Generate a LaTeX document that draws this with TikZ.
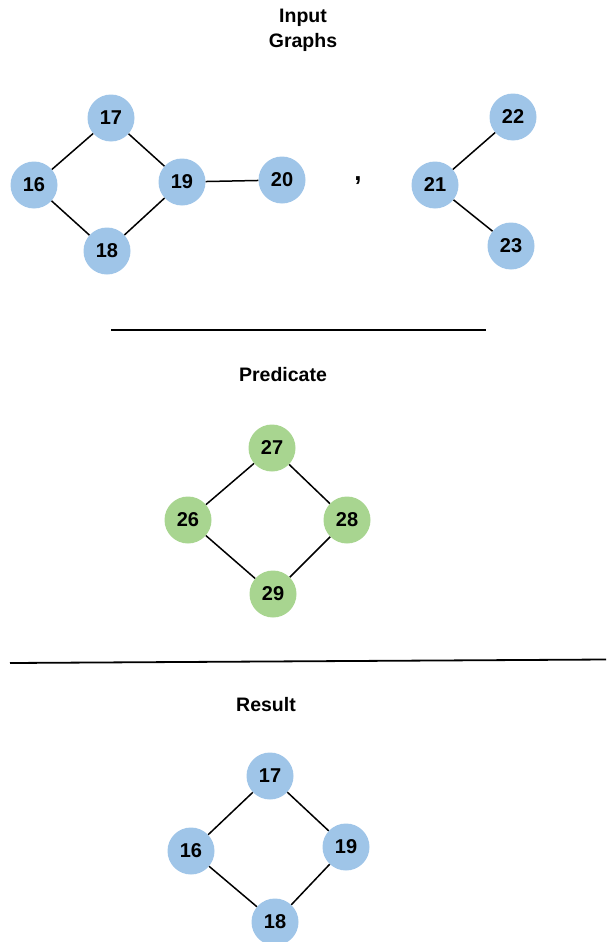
\documentclass[tikz,border=0pt]{standalone}
\usepackage{fontspec}
\setmainfont{Liberation Sans}
\definecolor{vblue}{HTML}{9FC5E8}
\definecolor{vgreen}{HTML}{A8D590}
\tikzset{
  vtx/.style={circle, fill=vblue, minimum size=47pt, inner sep=0pt, font=\fontsize{20}{22}\selectfont\bfseries},
  pvtx/.style={vtx, fill=vgreen},
  edge/.style={line width=1.5pt, black},
  rule/.style={line width=1.8pt, black},
  title/.style={font=\fontsize{19.5}{25}\selectfont\bfseries, align=center}
}
\begin{document}
\begin{tikzpicture}[x=1pt, y=-1pt]
  \useasboundingbox (0,0) rectangle (606,942);

  % input graphs
  \node[title] (tin) at (303,30) {Input\\Graphs};
  \node[vtx] (a17) at (111,118) {17};
  \node[vtx] (a16) at (34,185) {16};
  \node[vtx] (a19) at (182,182) {19};
  \node[vtx] (a18) at (107,251) {18};
  \node[vtx] (a20) at (282,180) {20};
  \draw[edge] (a16) -- (a17);
  \draw[edge] (a17) -- (a19);
  \draw[edge] (a16) -- (a18);
  \draw[edge] (a18) -- (a19);
  \draw[edge] (a19) -- (a20);

  \node[font=\fontsize{26}{28}\selectfont\bfseries] (comma) at (358,181) {,};

  \node[vtx] (b21) at (435,185) {21};
  \node[vtx] (b22) at (513,117) {22};
  \node[vtx] (b23) at (511,246) {23};
  \draw[edge] (b21) -- (b22);
  \draw[edge] (b21) -- (b23);

  % separators
  \coordinate (r1a) at (111,330);
  \coordinate (r1b) at (486,330);
  \draw[rule] (r1a) -- (r1b);

  % predicate
  \node[title] (tpred) at (283,375) {Predicate};
  \node[pvtx] (p27) at (272,448) {27};
  \node[pvtx] (p26) at (188,520) {26};
  \node[pvtx] (p28) at (347,520) {28};
  \node[pvtx] (p29) at (273,594) {29};
  \draw[edge] (p26) -- (p27);
  \draw[edge] (p27) -- (p28);
  \draw[edge] (p26) -- (p29);
  \draw[edge] (p29) -- (p28);

  \coordinate (r2a) at (10,663);
  \coordinate (r2b) at (606,659.5);
  \draw[rule] (r2a) -- (r2b);

  % result
  \node[title] (tres) at (266,705) {Result};
  \node[vtx] (c17) at (270,776) {17};
  \node[vtx] (c16) at (191,851) {16};
  \node[vtx] (c19) at (346,847) {19};
  \node[vtx] (c18) at (275,922) {18};
  \draw[edge] (c16) -- (c17);
  \draw[edge] (c17) -- (c19);
  \draw[edge] (c16) -- (c18);
  \draw[edge] (c18) -- (c19);
\end{tikzpicture}
\end{document}
